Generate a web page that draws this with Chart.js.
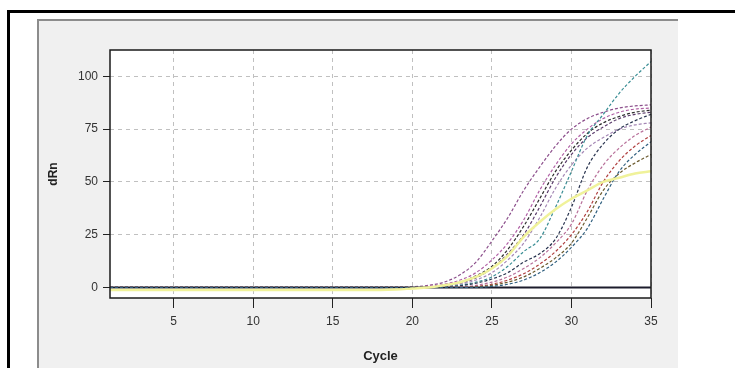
<!DOCTYPE html>
<html>
<head>
<meta charset="utf-8">
<script src="https://cdn.jsdelivr.net/npm/chart.js@4"></script>
<style>
  html, body { margin: 0; padding: 0; background: #fff; }
  body { width: 735px; height: 368px; position: relative; overflow: hidden; }
  #frame { position: absolute; left: 7px; top: 10px; width: 740px; height: 370px;
           border-top: 3px solid #000; border-left: 3px solid #000; }
  #panel { position: absolute; left: 37px; top: 19px; width: 641px; height: 349px;
           background: #f0f0f0; border-top: 2px solid #8c8c8c; border-left: 2px solid #8c8c8c;
           box-sizing: border-box; }
  #wrap { position: absolute; left: 0; top: 0; width: 639px; height: 347px; }
</style>
</head>
<body>
<div id="frame"></div>
<div id="panel"><div id="wrap"><canvas id="ampChart"></canvas></div></div>
<script>
// cycles and tick labels
const cycles = [1,2,3,4,5,6,7,8,9,10,11,12,13,14,15,16,17,18,19,20,21,22,23,24,25,26,27,28,29,30,31,32,33,34,35];
const xTicks = [5, 10, 15, 20, 25, 30, 35];
const yTicks = [0, 25, 50, 75, 100];

// dRn per cycle, one array per well
const wellA = [0,0,0,0,0,0,0,0,0,0,0,0,0,0,0,0,0,0,0,0.3,1,2.5,6,12,22,33,46,57,67,75,80,83,85,86,86.5];
const wellB = [0,0,0,0,0,0,0,0,0,0,0,0,0,0,0,0,0,0,0,0,0.5,1.5,3.5,7,13,21,32,46,58,68,75,80,83,84.5,85];
const wellC = [0,0,0,0,0,0,0,0,0,0,0,0,0,0,0,0,0,0,0,0,0.3,1,2.5,5.5,10,18,29,42,55,65,73,78,81,83,84];
const wellD = [0,0,0,0,0,0,0,0,0,0,0,0,0,0,0,0,0,0,0,0,0.2,0.8,2,4.5,9,16,25,38,52,63,71,76,80,82,83];
const wellE = [0,0,0,0,0,0,0,0,0,0,0,0,0,0,0,0,0,0,0,0,0,0.5,1.5,3.5,7,13,21,33,47,58,66,71,75,77,78];
const wellF = [0,0,0,0,0,0,0,0,0,0,0,0,0,0,0,0,0,0,0,0,0,0.3,1,2.5,5,10,17,23,38,55,72,82,92,100,107];
const wellG = [0,0,0,0,0,0,0,0,0,0,0,0,0,0,0,0,0,0,0,0,0,0.2,0.8,2,4,7,12,16,23,38,57,68,75,79,82];
const wellH = [0,0,0,0,0,0,0,0,0,0,0,0,0,0,0,0,0,0,0,0,0,0,0.3,1,2.5,5,9,14,21,30,46,58,66,72,76];
const wellJ = [0,0,0,0,0,0,0,0,0,0,0,0,0,0,0,0,0,0,0,0,0,0,0,0.5,1.5,3.5,6.5,11,17,25,36,50,60,67,72];
const wellK = [0,0,0,0,0,0,0,0,0,0,0,0,0,0,0,0,0,0,0,0,0,0,0,0.3,1,2.5,5,9,14,21,33,46,54,59,63];
const wellL = [0,0,0,0,0,0,0,0,0,0,0,0,0,0,0,0,0,0,0,0,0,0,0,0,0.5,1.5,3.5,7,12,19,28,42,55,63,69];
const wellY = [-1.2,-1.2,-1.2,-1.2,-1.2,-1.2,-1.2,-1.2,-1.2,-1.2,-1.2,-1.2,-1.2,-1.2,-1.2,-1.2,-1.2,-1.2,-1,-0.5,0,1,2.5,5,9,15,24,31,37,42,46,50,52,54,55];
const wellNtc = [0,0,0,0,0,0,0,0,0,0,0,0,0,0,0,0,0,0,0,0,0,0,0,0,0,0,0,0,0,0,0,0,0,0,0];

// white plot background and dark frame round the chart area
const plotFrame = {
    id: 'plotFrame',
    beforeDraw(chart) {
        const { ctx, chartArea: a } = chart;
        ctx.save();
        ctx.fillStyle = '#ffffff';
        ctx.fillRect(a.left, a.top, a.right - a.left, a.bottom - a.top);
        ctx.restore();
    },
    afterDraw(chart) {
        const { ctx, chartArea: a } = chart;
        ctx.save();
        ctx.strokeStyle = '#1a1a1a';
        ctx.lineWidth = 1.5;
        ctx.strokeRect(a.left, a.top, a.right - a.left, a.bottom - a.top);
        ctx.restore();
    }
};

function well(data, color, width, dash) {
    return {
        data: data,
        borderColor: color,
        borderWidth: width,
        borderDash: dash,
        pointRadius: 0,
        cubicInterpolationMode: 'monotone',
        fill: false
    };
}

function createChart() {
    const ctx = document.getElementById('ampChart');
    Chart.defaults.font.family = '"Liberation Sans", "DejaVu Sans", sans-serif';
    new Chart(ctx, {
        type: 'line',
        data: {
            labels: cycles,
            datasets: [
                well(wellY, '#f0f29a', 2.5, []),
                well(wellL, '#2f5f7f', 1.2, [3, 2]),
                well(wellK, '#6b5a2e', 1.2, [3, 2]),
                well(wellJ, '#b04040', 1.2, [3, 2]),
                well(wellH, '#b8709a', 1.2, [3, 2]),
                well(wellG, '#2a3550', 1.2, [3, 2]),
                well(wellF, '#3a8e95', 1.2, [3, 2]),
                well(wellE, '#a487b5', 1.2, [3, 2]),
                well(wellD, '#5a3b6b', 1.2, [3, 2]),
                well(wellC, '#2b2b2b', 1.2, [3, 2]),
                well(wellB, '#b060a5', 1.2, [3, 2]),
                well(wellA, '#8c4f8c', 1.2, [3, 2]),
                well(wellNtc, '#1c1c2c', 2, [])
            ]
        },
        options: {
            responsive: true,
            maintainAspectRatio: false,
            animation: false,
            layout: { padding: { top: 29, right: 27, left: 0, bottom: 0 } },
            plugins: {
                legend: { display: false },
                tooltip: { enabled: false }
            },
            scales: {
                x: {
                    type: 'linear',
                    min: 1,
                    max: 35,
                    afterBuildTicks: scale => { scale.ticks = xTicks.map(v => ({ value: v })); },
                    afterFit: scale => { scale.height = 70; },
                    border: { display: false, dash: [4, 4] },
                    grid: {
                        color: '#c0c0c0',
                        tickColor: '#222',
                        tickLength: 10,
                        tickBorderDash: [],
                        tickWidth: 1
                    },
                    ticks: { color: '#333', font: { size: 12 }, padding: 6, maxRotation: 0 },
                    title: {
                        display: true,
                        text: 'Cycle',
                        color: '#222',
                        font: { size: 13, weight: 'bold' },
                        padding: { top: 0, bottom: 4 }
                    }
                },
                y: {
                    min: -5,
                    max: 112.5,
                    afterBuildTicks: scale => { scale.ticks = yTicks.map(v => ({ value: v })); },
                    afterFit: scale => { scale.width = 71; },
                    border: { display: false, dash: [4, 4] },
                    grid: {
                        color: '#c0c0c0',
                        tickColor: '#222',
                        tickLength: 7,
                        tickBorderDash: [],
                        tickWidth: 1
                    },
                    ticks: { color: '#333', font: { size: 12 }, padding: 5 },
                    title: {
                        display: true,
                        text: 'dRn',
                        color: '#222',
                        font: { size: 12, weight: 'bold' },
                        padding: { top: 7, bottom: 0 }
                    }
                }
            }
        },
        plugins: [plotFrame]
    });
}

createChart();
</script>
</body>
</html>
